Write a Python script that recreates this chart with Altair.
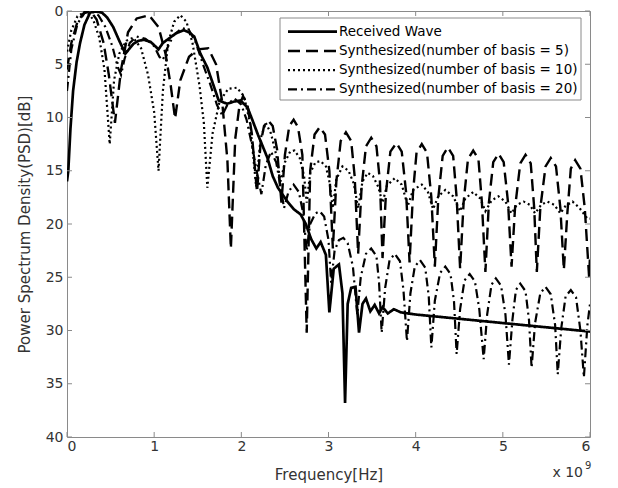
import altair as alt
import pandas as pd

SERIES = [
    "Received Wave",
    "Synthesized(number of basis = 5)",
    "Synthesized(number of basis = 10)",
    "Synthesized(number of basis = 20)",
]

# Received wave (solid)
RX_F = [0.00, 0.015, 0.04, 0.07, 0.11, 0.15, 0.20, 0.265, 0.33, 0.40, 0.46, 0.53, 0.60, 0.67, 0.72,
        0.76, 0.82, 0.88, 0.96, 1.05, 1.10, 1.15, 1.25, 1.34, 1.40, 1.46, 1.53, 1.61, 1.69, 1.74,
        1.80, 1.84, 1.92, 1.99, 2.07, 2.13, 2.19, 2.25, 2.30, 2.36, 2.42, 2.47, 2.53, 2.60, 2.68,
        2.74, 2.80, 2.86, 2.91, 2.97, 3.01, 3.06, 3.12, 3.16, 3.19, 3.22, 3.26, 3.31, 3.35, 3.39,
        3.43, 3.48, 3.53, 3.58, 3.62, 3.68, 3.75, 3.83, 4.00, 4.50, 5.00, 5.50, 6.00]
RX_P = [16.0, 15.0, 11.0, 7.5, 4.8, 3.0, 1.3, 0.15, 0.05, 0.15, 0.6, 1.5, 2.8, 4.0, 3.5,
        3.1, 2.8, 2.7, 2.9, 3.6, 3.0, 2.7, 2.1, 1.8, 2.0, 2.4, 4.0, 5.3, 7.2, 8.4,
        8.6, 8.7, 8.5, 8.4, 9.05, 10.3, 11.6, 12.8, 13.8, 15.5, 16.6, 17.2, 17.9, 18.6, 19.1,
        20.0, 21.4, 22.3, 21.7, 22.9, 28.3, 24.2, 23.8, 26.5, 36.8, 27.5, 26.0, 25.9, 30.2, 27.5,
        27.0, 28.2, 27.6, 28.4, 27.8, 28.4, 28.0, 28.3, 28.5, 28.9, 29.3, 29.7, 30.1]

# Synthesized, 5 basis (dashed)
B5_F = [0.00, 0.05, 0.12, 0.20, 0.27, 0.34, 0.42, 0.48, 0.55, 0.62, 0.70, 0.80, 0.94, 1.05, 1.13,
        1.19, 1.24, 1.30, 1.40, 1.50, 1.62, 1.71, 1.78, 1.84, 1.88, 1.93, 1.98, 2.02, 2.07, 2.12,
        2.18, 2.22, 2.26, 2.31, 2.36, 2.41, 2.46, 2.50, 2.55, 2.60, 2.65, 2.70, 2.75, 2.79, 2.84,
        2.90, 2.96, 3.01, 3.05, 3.09, 3.14, 3.20, 3.26, 3.30, 3.34, 3.38, 3.43, 3.49, 3.55, 3.59,
        3.62, 3.66, 3.71, 3.78, 3.84, 3.89, 3.93, 3.97, 4.01, 4.07, 4.13, 4.18, 4.22, 4.26, 4.31,
        4.37, 4.43, 4.47, 4.51, 4.55, 4.60, 4.66, 4.72, 4.76, 4.80, 4.84, 4.89, 4.95, 5.01, 5.06,
        5.10, 5.14, 5.20, 5.26, 5.32, 5.36, 5.39, 5.43, 5.49, 5.55, 5.61, 5.66, 5.70, 5.74, 5.78,
        5.83, 5.89, 5.94, 5.99, 6.00]
B5_P = [5.5, 3.0, 1.0, 0.1, 0.0, 0.8, 3.0, 6.0, 10.5, 5.5, 2.0, 0.7, 0.4, 1.5, 4.0,
        7.0, 10.1, 6.5, 4.3, 3.6, 3.5, 5.0, 8.5, 14.0, 22.3, 12.0, 8.8, 8.0, 8.8, 11.5,
        17.0, 12.5, 10.8, 10.3, 10.8, 13.0, 18.0, 13.5, 10.8, 10.2, 10.9, 13.5, 30.2, 15.0, 11.6,
        10.9, 11.6, 15.0, 22.3, 16.0, 12.2, 11.4, 12.2, 15.5, 22.8, 16.5, 12.7, 11.9, 12.7, 16.0,
        23.2, 17.0, 13.2, 12.4, 13.2, 17.0, 23.6, 17.0, 13.3, 12.5, 13.3, 17.5, 24.0, 17.5, 13.6,
        12.8, 13.6, 17.5, 24.2, 18.0, 13.9, 13.1, 13.9, 18.0, 24.5, 18.0, 14.2, 13.4, 14.2, 18.0,
        24.0, 18.5, 14.3, 13.5, 14.3, 18.5, 24.5, 18.5, 14.6, 13.8, 14.6, 18.5, 24.3, 19.0, 14.8,
        14.0, 14.8, 18.5, 25.0, 23.0]

# Synthesized, 10 basis (dotted)
B10_F = [0.00, 0.05, 0.12, 0.22, 0.30, 0.37, 0.43, 0.49, 0.54, 0.60, 0.68, 0.76, 0.85, 0.93, 1.00,
         1.05, 1.10, 1.16, 1.23, 1.30, 1.37, 1.44, 1.52, 1.57, 1.61, 1.67, 1.75, 1.85, 1.95, 2.03,
         2.10, 2.17, 2.22, 2.28, 2.34, 2.40, 2.45, 2.50, 2.56, 2.61, 2.67, 2.72, 2.75, 2.79, 2.85,
         2.91, 2.97, 3.01, 3.05, 3.09, 3.16, 3.23, 3.29, 3.34, 3.39, 3.45, 3.51, 3.57, 3.62, 3.67,
         3.76, 3.84, 3.91, 3.97, 4.07, 4.14, 4.20, 4.26, 4.34, 4.43, 4.51, 4.57, 4.66, 4.74, 4.80,
         4.87, 4.95, 5.03, 5.10, 5.16, 5.24, 5.31, 5.37, 5.44, 5.51, 5.59, 5.66, 5.72, 5.80, 5.88,
         5.97, 6.00]
B10_P = [3.8, 1.8, 0.5, 0.0, 0.8, 2.5, 5.5, 12.5, 6.5, 4.0, 2.8, 2.5, 3.5, 6.0, 9.5,
         15.0, 7.5, 3.0, 1.0, 0.4, 1.0, 3.0, 7.0, 10.5, 16.6, 11.5, 8.5, 7.3, 7.2, 8.0,
         10.5, 16.5, 12.0, 10.5, 11.5, 13.5, 16.0, 14.2, 13.2, 13.1, 13.8, 15.5, 18.0, 15.2, 14.2,
         14.1, 14.6, 16.0, 18.5, 15.8, 14.6, 15.0, 16.2, 18.5, 16.0, 15.2, 15.5, 16.5, 18.0, 16.4,
         15.7, 16.3, 18.3, 16.8, 16.3, 17.0, 18.6, 17.4, 16.8, 17.4, 18.8, 17.6, 17.0, 17.6, 18.8,
         17.8, 17.4, 17.9, 19.0, 18.2, 17.9, 18.2, 19.0, 18.2, 17.9, 18.2, 19.0, 18.3, 17.9, 18.5,
         19.5, 19.5]

# Synthesized, 20 basis (dash-dot)
B20_F = [0.00, 0.05, 0.12, 0.20, 0.28, 0.36, 0.44, 0.52, 0.58, 0.62, 0.66, 0.72, 0.80, 0.90, 1.00,
         1.06, 1.10, 1.15, 1.22, 1.32, 1.40, 1.48, 1.56, 1.64, 1.72, 1.78, 1.84, 1.92, 2.00, 2.06,
         2.12, 2.18, 2.23, 2.28, 2.34, 2.40, 2.45, 2.49, 2.54, 2.60, 2.66, 2.71, 2.75, 2.79, 2.85,
         2.90, 2.95, 3.00, 3.03, 3.07, 3.12, 3.17, 3.22, 3.28, 3.33, 3.37, 3.43, 3.49, 3.55, 3.58,
         3.61, 3.65, 3.70, 3.76, 3.82, 3.86, 3.90, 3.94, 3.99, 4.05, 4.11, 4.15, 4.18, 4.22, 4.28,
         4.34, 4.40, 4.44, 4.47, 4.51, 4.56, 4.62, 4.68, 4.73, 4.78, 4.82, 4.87, 4.92, 4.98, 5.03,
         5.07, 5.11, 5.15, 5.20, 5.26, 5.30, 5.33, 5.37, 5.43, 5.49, 5.55, 5.60, 5.63, 5.67, 5.72,
         5.78, 5.84, 5.89, 5.93, 5.97, 6.00]
B20_P = [7.5, 3.6, 1.2, 0.2, 0.0, 0.4, 1.5, 3.3, 5.2, 6.0, 4.5, 3.0, 2.4, 2.6, 3.3,
         4.3, 4.6, 3.5, 2.3, 1.6, 1.8, 3.0, 5.0, 6.8, 8.8, 9.8, 8.8, 8.2, 8.8, 10.2,
         12.5, 15.2, 17.2, 14.5, 13.2, 14.2, 16.5, 18.5, 17.0, 16.3, 17.0, 19.0, 22.5, 20.0, 19.0,
         18.8, 19.3, 21.5, 25.5, 22.5, 21.5, 21.3, 21.8, 24.0, 28.5, 25.0, 22.8, 22.3, 23.0, 25.5,
         30.2, 26.0, 23.4, 22.8, 23.5, 26.2, 31.0, 26.5, 24.0, 23.4, 24.1, 26.8, 31.6, 27.2, 24.6,
         24.0, 24.7, 27.3, 32.2, 28.0, 25.3, 24.7, 25.4, 28.0, 32.7, 28.5, 25.7, 25.1, 25.8, 28.5,
         33.2, 29.0, 26.2, 25.6, 26.3, 29.0, 33.5, 29.3, 26.5, 25.9, 26.6, 29.5, 34.1, 29.8, 26.8,
         26.2, 26.9, 30.0, 34.4, 29.5, 27.5]

X_TICKS = [0, 1, 2, 3, 4, 5, 6]
Y_TICKS = [0, 5, 10, 15, 20, 25, 30, 35, 40]

DASHES = [[1, 0], [12, 6], [2, 3], [9, 4, 2, 4]]
WIDTHS = [2.7, 2.4, 2.2, 2.2]

W, H = 523, 426
FONT = "DejaVu Sans"
TXT = "#333333"
FRAME = "#8a8a8a"

xs = alt.Scale(domain=[0, 6], nice=False, zero=False)
ys = alt.Scale(domain=[0, 40], reverse=True, nice=False, zero=False)

xaxis = alt.Axis(values=X_TICKS, format="d", ticks=False, domain=False, grid=False,
                 labelFont=FONT, labelFontSize=14, labelColor=TXT, labelPadding=2,
                 title="Frequency[Hz]", titleFont=FONT, titleFontSize=15, titleFontWeight="normal",
                 titleColor=TXT, titleY=37, titleBaseline="middle")
yaxis = alt.Axis(values=Y_TICKS, format="d", ticks=False, domain=False, grid=False,
                 labelFont=FONT, labelFontSize=14, labelColor=TXT, labelPadding=4,
                 title="Power Spectrum Density(PSD)[dB]", titleFont=FONT, titleFontSize=15,
                 titleFontWeight="normal", titleColor=TXT, titleX=-43, titleY=H / 2,
                 titleBaseline="middle")

series_data = [(RX_F, RX_P), (B5_F, B5_P), (B10_F, B10_P), (B20_F, B20_P)]

layers = []
for (fx, py), dash, w in zip(series_data, DASHES, WIDTHS):
    df = pd.DataFrame({"f": fx, "p": py})
    layers.append(
        alt.Chart(df).mark_line(color="black", strokeWidth=w, strokeDash=dash, clip=True,
                                strokeJoin="miter", strokeCap="butt")
        .encode(x=alt.X("f:Q", scale=xs, axis=xaxis), y=alt.Y("p:Q", scale=ys, axis=yaxis))
    )

# inward ticks (MATLAB style) on all four sides
xt = pd.DataFrame({"f": X_TICKS})
yt = pd.DataFrame({"p": Y_TICKS})
TL = 5
layers.append(alt.Chart(xt).mark_rule(color=FRAME, strokeWidth=1).encode(
    x=alt.X("f:Q", scale=xs, axis=xaxis), y=alt.value(H), y2=alt.value(H - TL)))
layers.append(alt.Chart(xt).mark_rule(color=FRAME, strokeWidth=1).encode(
    x=alt.X("f:Q", scale=xs, axis=xaxis), y=alt.value(0), y2=alt.value(TL)))
layers.append(alt.Chart(yt).mark_rule(color=FRAME, strokeWidth=1).encode(
    y=alt.Y("p:Q", scale=ys, axis=yaxis), x=alt.value(0), x2=alt.value(TL)))
layers.append(alt.Chart(yt).mark_rule(color=FRAME, strokeWidth=1).encode(
    y=alt.Y("p:Q", scale=ys, axis=yaxis), x=alt.value(W), x2=alt.value(W - TL)))

# legend box
one = pd.DataFrame({"k": [0]})
LX0, LX1, LY0, LY1 = 213, 514, 7, 89
layers.append(alt.Chart(one).mark_rect(fill="white", stroke=FRAME, strokeWidth=1).encode(
    x=alt.value(LX0), x2=alt.value(LX1), y=alt.value(LY0), y2=alt.value(LY1)))
ROWS = [20.7, 40.0, 59.2, 78.4]
for name, dash, w, ry in zip(SERIES, DASHES, WIDTHS, ROWS):
    d = pd.DataFrame({"label": [name]})
    layers.append(alt.Chart(d).mark_rule(color="black", strokeWidth=w, strokeDash=dash,
                                         strokeCap="butt").encode(
        x=alt.value(221), x2=alt.value(270), y=alt.value(ry)))
    layers.append(alt.Chart(d).mark_text(align="left", baseline="middle", font=FONT,
                                         fontSize=13.5, color="black").encode(
        x=alt.value(272), y=alt.value(ry), text="label:N"))

# exponent label
layers.append(alt.Chart(pd.DataFrame({"t": ["x 10"]})).mark_text(
    align="right", baseline="middle", font=FONT, fontSize=14, color=TXT).encode(
    x=alt.value(516), y=alt.value(462), text="t:N"))
layers.append(alt.Chart(pd.DataFrame({"t": ["9"]})).mark_text(
    align="left", baseline="middle", font=FONT, fontSize=10, color=TXT).encode(
    x=alt.value(518), y=alt.value(455), text="t:N"))

chart = alt.layer(*layers).properties(
    width=W, height=H,
    padding={"left": 67, "top": 11, "right": 28, "bottom": 51},
    autosize="none",
    background="white",
).configure_view(stroke=FRAME, strokeWidth=1)

chart.save("out.html", embed_options={"renderer": "svg", "actions": False})
